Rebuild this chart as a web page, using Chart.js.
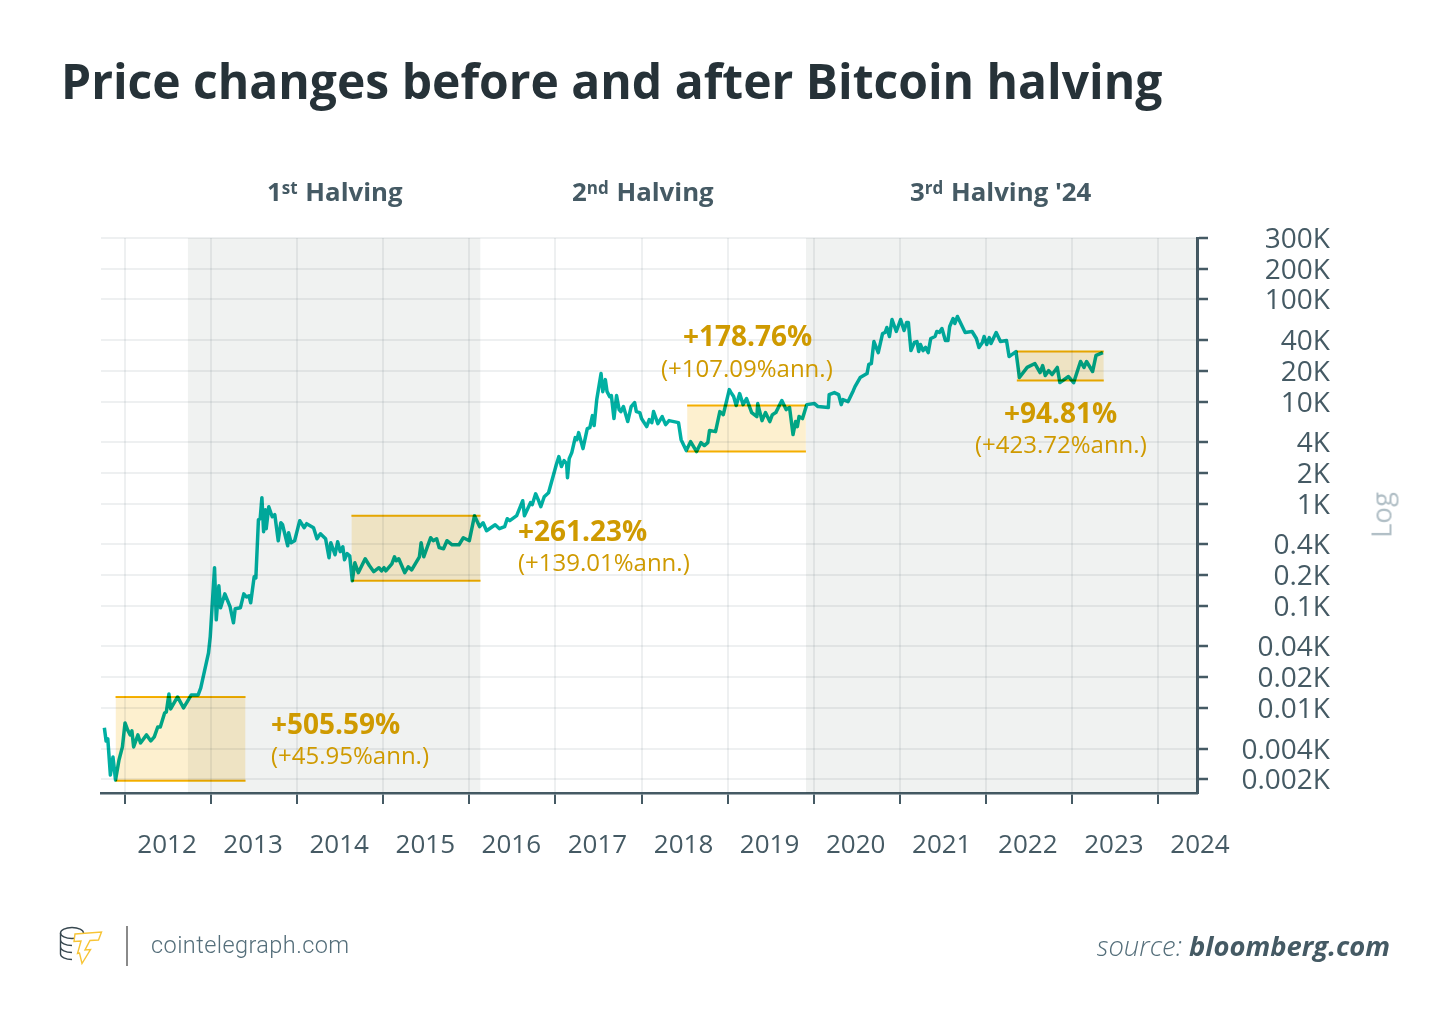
<!DOCTYPE html>
<html>
<head>
<meta charset="utf-8">
<title>Price changes before and after Bitcoin halving</title>
<script src="https://cdn.jsdelivr.net/npm/chart.js@4"></script>
<style>
html,body{margin:0;padding:0;background:#fff;width:1450px;height:1026px;overflow:hidden;font-family:'Open Sans',sans-serif}
#wrap{position:relative;width:1450px;height:1026px}
canvas{position:absolute;left:0;top:0}
.t{position:absolute;white-space:nowrap;transform:translateY(-50%);line-height:1.2}
.h{font-size:25.8px;font-weight:700;color:#455a64}
.h sup{font-size:17px;line-height:0;vertical-align:7px;margin:0 1px 0 0}
.p{font-size:28px;font-weight:700;color:#cf9a00}
.a{font-size:24px;color:#cf9a00}
</style>
</head>
<body>
<div id="wrap">
<canvas id="c" width="1450" height="1026"></canvas>
<div class="t" style="left:61px;top:81px;font-size:48px;font-weight:700;color:#263238">Price changes before and after Bitcoin halving</div>
<div class="t h" style="left:267px;top:191px">1<sup>st</sup> Halving</div>
<div class="t h" style="left:572px;top:191px">2<sup>nd</sup> Halving</div>
<div class="t h" style="left:910px;top:191px">3<sup>rd</sup> Halving '24</div>
<div class="t p" style="left:271px;top:724px">+505.59%</div>
<div class="t a" style="left:271px;top:755px">(+45.95%ann.)</div>
<div class="t p" style="left:518px;top:531px">+261.23%</div>
<div class="t a" style="left:518px;top:562px">(+139.01%ann.)</div>
<div class="t p" style="left:683px;top:336px">+178.76%</div>
<div class="t a" style="left:661px;top:368px">(+107.09%ann.)</div>
<div class="t p" style="left:1004px;top:413px">+94.81%</div>
<div class="t a" style="left:975px;top:444px">(+423.72%ann.)</div>
<div class="t" style="left:1381px;top:515px;font-size:27.5px;color:#b0bec5;transform:translate(-50%,-50%) rotate(-90deg)">Log</div>
<svg style="position:absolute;left:55px;top:920px" width="55" height="50" viewBox="55 920 55 50" fill="none">
  <g stroke="#37474f" stroke-width="1.4">
    <ellipse cx="72" cy="933" rx="11.5" ry="5.5"/>
    <path d="M60.5 933v7c0 3 5 5.5 11.5 5.5M60.5 940v7c0 3 5 5.5 11.5 5.5M60.5 947v7c0 3 5 5.5 11.5 5.5"/>
  </g>
  <path d="M75 934L101.500 932L98.500 940L90 940.500L85 950L90.500 949.500L82 963.500L79.500 953L77.500 953.500L81 941L74 941.500Z" fill="#fff" stroke="#f7c435" stroke-width="1.4"/>
</svg>
<div style="position:absolute;left:126px;top:926px;width:2px;height:40px;background:#8a8a8a"></div>
<div class="t" style="left:151px;top:945px;font-family:Roboto,sans-serif;font-weight:300;font-size:23.5px;letter-spacing:.42px;color:#546e7a">cointelegraph.com</div>
<div class="t" style="right:60px;top:946px;font-size:27.4px;font-style:italic;color:#546e7a"><span style="font-weight:300">source: </span><span style="font-weight:700;color:#455a64">bloomberg.com</span></div>
</div>
<script>
// Decimal year and USD price
const years = [2011.76,2011.78,2011.80,2011.83,2011.86,2011.89,2011.93,2011.97,2012.00,2012.03,2012.06,2012.08,2012.10,2012.15,2012.18,2012.25,2012.30,2012.34,2012.38,2012.41,2012.46,2012.48,2012.51,2012.53,2012.61,2012.68,2012.77,2012.85,2012.88,2012.97,2012.99,
2013.04,2013.06,2013.09,2013.11,2013.16,2013.22,2013.26,2013.28,2013.34,2013.38,2013.41,2013.44,2013.46,2013.50,2013.52,2013.55,2013.57,2013.59,2013.61,2013.63,2013.64,2013.67,2013.71,2013.74,2013.78,2013.81,2013.83,2013.89,2013.90,2013.93,2013.97,
2014.03,2014.08,2014.11,2014.19,2014.23,2014.27,2014.33,2014.37,2014.39,2014.44,2014.47,2014.50,2014.53,2014.55,2014.58,2014.61,2014.64,2014.67,2014.71,2014.79,2014.84,2014.89,2014.95,2014.98,
2015.01,2015.03,2015.10,2015.13,2015.15,2015.18,2015.25,2015.29,2015.33,2015.42,2015.44,2015.47,2015.55,2015.58,2015.62,2015.65,2015.70,2015.74,2015.80,2015.88,2015.93,2016.00,
2016.06,2016.12,2016.16,2016.20,2016.30,2016.35,2016.41,2016.44,2016.47,2016.55,2016.62,2016.64,2016.71,2016.73,2016.77,2016.80,2016.83,2016.87,2016.92,
2017.01,2017.04,2017.07,2017.10,2017.13,2017.14,2017.16,2017.19,2017.23,2017.25,2017.27,2017.32,2017.37,2017.40,2017.43,2017.45,2017.48,2017.53,2017.55,2017.58,2017.60,2017.63,2017.65,2017.68,2017.71,2017.74,2017.76,2017.79,2017.84,2017.88,2017.92,2017.94,2017.98,2018.00,
2018.06,2018.09,2018.12,2018.14,2018.19,2018.24,2018.28,2018.32,2018.43,2018.46,2018.52,2018.57,2018.64,2018.69,2018.73,2018.77,2018.79,2018.86,2018.91,2018.95,
2019.02,2019.04,2019.07,2019.10,2019.14,2019.18,2019.22,2019.28,2019.34,2019.35,2019.40,2019.44,2019.49,2019.52,2019.56,2019.63,2019.68,2019.72,2019.76,2019.79,2019.81,2019.83,2019.87,2019.92,2020.01,
2020.05,2020.17,2020.18,2020.24,2020.29,2020.32,2020.34,2020.40,2020.46,2020.48,2020.54,2020.62,2020.64,2020.67,2020.70,2020.75,2020.80,2020.83,2020.85,2020.88,2020.91,2020.96,2021.01,
2021.05,2021.08,2021.10,2021.13,2021.17,2021.20,2021.22,2021.24,2021.27,2021.30,2021.33,2021.36,2021.41,2021.43,2021.46,2021.49,2021.53,2021.56,2021.58,2021.62,2021.64,2021.67,2021.76,2021.84,2021.89,2021.92,2021.96,2021.98,2022.01,
2022.04,2022.06,2022.12,2022.17,2022.24,2022.27,2022.35,2022.39,2022.48,2022.57,2022.63,2022.66,2022.69,2022.73,2022.77,2022.83,2022.86,2022.96,
2023.02,2023.10,2023.14,2023.17,2023.24,2023.28,2023.36];
const prices = [6.4,4.75,4.97,2.2,3.31,1.97,3.09,4.15,7.13,6.09,5.44,5.95,4.15,5.44,4.54,5.44,4.75,5.2,6.51,6.51,8.93,9.14,13.7,9.78,12.8,10,13.4,13.4,15.7,34.6,49.7,
236,72.9,157,95.6,131,98,68.2,93.5,95.6,131,122,125,107,192,188,697,713,1145,532,873,569,934,745,780,434,651,622,387,520,415,434,
682,582,637,582,454,508,454,296,415,316,424,339,379,283,324,309,176,264,211,289,247,216,236,220,
236,220,258,302,276,289,211,241,225,302,415,302,464,434,454,371,362,434,396,396,464,434,
763,595,651,544,622,569,595,713,682,763,1070,763,1023,978,1250,1095,934,1171,1280,
2410,2890,2310,2640,2470,1800,2760,3160,4440,4240,4970,3460,5440,5570,7290,5820,10460,18800,12500,16400,12500,11200,11450,6820,11450,8350,7980,8930,6370,8930,9780,7980,7800,6820,
5690,6670,6220,7980,6090,7130,5950,6510,6220,4240,3310,4050,3240,3960,3710,3960,5200,5080,7980,7450,
13100,12250,11200,9140,11980,9340,10700,7800,7130,9560,6510,7800,6370,7450,7800,10230,8350,8730,4750,6370,5690,7130,6820,9340,9560,
8930,8730,11710,12250,11710,9340,10460,10000,12800,14000,17200,18800,23100,23600,38750,30200,46400,47500,53200,43400,63700,48600,63700,
49700,59500,59500,31600,37900,38750,30900,36200,31600,33900,30200,41500,43400,48600,47500,52000,39600,39600,54400,65100,58200,68200,47500,48600,41500,33900,37900,43400,36200,
42400,37100,47500,38750,39600,27600,30900,17200,21600,23600,19250,22500,18000,20100,18400,21600,15350,17600,
15350,24700,21600,24700,19700,28300,30200];

const xMin = 2011.721, xMax = 2024.453, yMin = 1.468, yMax = 400000;

const halvingStart = [2012.73, 2019.91];
const halvingEnd   = [2016.13, xMax];

const boxStart = [2011.89, 2014.63, 2018.53, 2022.36];
const boxEnd   = [2013.40, 2016.13, 2019.91, 2023.37];
const boxHigh  = [12.8, 763, 9140, 30900];
const boxLow   = [1.93, 176, 3240, 16100];

const yearTicks = [2012,2013,2014,2015,2016,2017,2018,2019,2020,2021,2022,2023,2024];
// The reference's top tick sits at the axis top, one log step of 2x above 200K, though labelled 300K.
const priceTicks = [400000,200000,100000,40000,20000,10000,4000,2000,1000,400,200,100,40,20,10,4,2];
const priceLabels = ['300K','200K','100K','40K','20K','10K','4K','2K','1K','0.4K','0.2K','0.1K','0.04K','0.02K','0.01K','0.004K','0.002K'];

Chart.defaults.font.family = "'Open Sans', sans-serif";

const datasets = [{
  label: 'Bitcoin price',
  data: years.map((x, i) => ({x, y: prices[i]})),
  borderColor: '#00b0a3', borderWidth: 3.5, pointRadius: 0, tension: 0,
  borderJoinStyle: 'round', fill: false, order: 0
}];
boxStart.forEach((s, i) => {
  datasets.push({
    label: 'Range high ' + (i + 1),
    data: [{x: s, y: boxHigh[i]}, {x: boxEnd[i], y: boxHigh[i]}],
    borderColor: '#f5b400', borderWidth: 2, pointRadius: 0,
    backgroundColor: '#fdf0cf', fill: {target: {value: boxLow[i]}}, order: 2
  });
  datasets.push({
    label: 'Range low ' + (i + 1),
    data: [{x: s, y: boxLow[i]}, {x: boxEnd[i], y: boxLow[i]}],
    borderColor: '#f5b400', borderWidth: 2, pointRadius: 0, fill: false, order: 1
  });
});
halvingStart.forEach((s, i) => {
  datasets.push({
    label: 'Halving period ' + (i + 1),
    data: [{x: s, y: yMax}, {x: halvingEnd[i], y: yMax}],
    borderWidth: 0, pointRadius: 0,
    backgroundColor: '#f0f2f1', fill: {target: {value: yMin}}, order: 3
  });
});

const multiply = {
  id: 'multiply',
  beforeDraw(chart) {
    const c = chart.ctx;
    c.save(); c.fillStyle = '#fff'; c.fillRect(0, 0, chart.width, chart.height); c.restore();
  },
  beforeDatasetsDraw(chart) { chart.ctx.globalCompositeOperation = 'multiply'; },
  afterDatasetsDraw(chart) { chart.ctx.globalCompositeOperation = 'source-over'; }
};

new Chart(document.getElementById('c'), {
  type: 'line',
  data: {datasets},
  plugins: [multiply],
  options: {
    responsive: false, animation: false, devicePixelRatio: 1,
    layout: {padding: {left: 101, top: 238, right: 120, bottom: 0}},
    plugins: {legend: {display: false}, tooltip: {enabled: false}, title: {display: false}},
    scales: {
      x: {
        type: 'linear', min: xMin, max: xMax,
        afterBuildTicks: s => { s.ticks = yearTicks.map(v => ({value: v})); },
        afterFit: s => { s.height = 233; s.paddingLeft = 0; s.paddingRight = 0; },
        grid: {color: 'rgba(69,90,100,0.09)', lineWidth: 2, tickColor: '#455a64', tickWidth: 2, tickLength: 11},
        border: {color: '#455a64', width: 2.5},
        ticks: {
          autoSkip: false, maxRotation: 0, minRotation: 0, padding: 26, labelOffset: 42,
          color: '#455a64', font: {size: 26},
          callback: v => String(v)
        }
      },
      y: {
        type: 'logarithmic', position: 'right', min: yMin, max: yMax,
        afterBuildTicks: s => { s.ticks = priceTicks.map(v => ({value: v})); },
        afterFit: s => { s.width = 133; },
        grid: {color: 'rgba(69,90,100,0.09)', lineWidth: 2, tickColor: '#455a64', tickWidth: 2.5, tickLength: 11},
        border: {color: '#455a64', width: 3},
        ticks: {
          autoSkip: false, crossAlign: 'far', padding: 35, labelOffset: 2,
          color: '#455a64', font: {size: 28},
          callback: v => priceLabels[priceTicks.indexOf(v)]
        }
      }
    }
  }
});
</script>
</body>
</html>
